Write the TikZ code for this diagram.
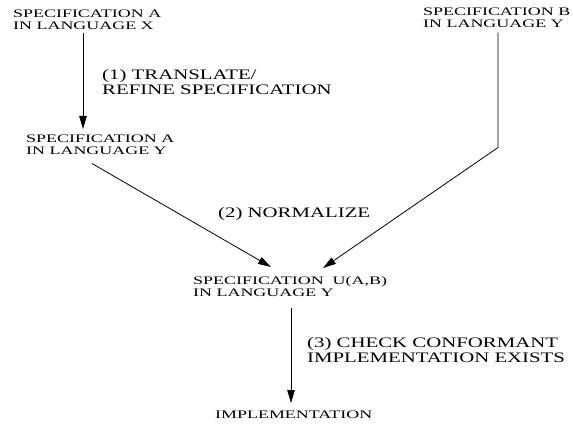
\documentclass[tikz,border=0pt]{standalone}
\usepackage{fontspec}
\newfontfamily\specfont[FakeStretch=1.56]{Liberation Serif}
\newfontfamily\stepfont[FakeStretch=1.435]{Liberation Serif}
\usetikzlibrary{arrows.meta,calc}
\tikzset{
  spec/.style={anchor=north west, inner sep=0pt, align=left,
    font=\specfont\fontsize{11.5}{12.3}\selectfont},
  steplabel/.style={anchor=north west, inner sep=0pt, align=left,
    font=\stepfont\fontsize{14.5}{14.5}\selectfont},
  flow/.style={line width=0.8pt, -{Triangle[length=13pt,width=7.5pt]}},
  plainflow/.style={line width=0.8pt},
}
\begin{document}
\begin{tikzpicture}[x=1pt,y=-1pt]
  \useasboundingbox (0,0) rectangle (573,425);
  % specifications
  \node[spec] (ax) at (13,9.5) {SPECIFICATION A\\IN LANGUAGE X};
  \node[spec] (ay) at (26,134.5) {SPECIFICATION A\\IN LANGUAGE Y};
  \node[spec] (b) at (423,7.5) {SPECIFICATION B\\IN LANGUAGE Y};
  \node[spec] (u) at (193,276.5) {SPECIFICATION\ \ U(A,B)\\IN LANGUAGE Y};
  \node[spec] (impl) at (215,410.5) {IMPLEMENTATION};
  % steps
  \node[steplabel] (translate) at (102,69.5) {(1) TRANSLATE/\\REFINE SPECIFICATION};
  \node[steplabel] (normalize) at (218,207.5) {(2) NORMALIZE};
  \node[steplabel] (check) at (307,337.5) {(3) CHECK CONFORMANT\\IMPLEMENTATION EXISTS};
  % connectors
  \draw[flow] ($(ax.south west)+(70,2.6)$) -- ($(ay.north west)+(57,-5.5)$);
  \draw[flow] ($(ay.south west)+(66,8.6)$) -- ($(u.north west)+(78,-9.5)$);
  \draw[flow] ($(b.south west)+(75,4.6)$) -- ($(b.south west)+(75,119.6)$)
    -- ($(u.north west)+(130,-8.5)$);
  \draw[flow] ($(u.south west)+(98,10.6)$) -- ($(impl.north west)+(76,-7.5)$);
\end{tikzpicture}
\end{document}
